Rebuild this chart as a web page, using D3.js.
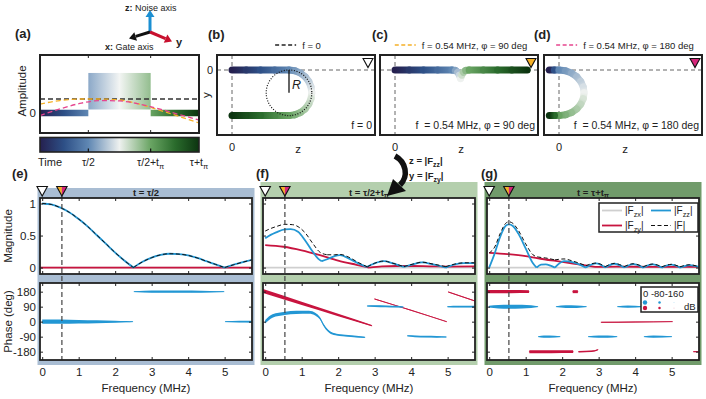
<!DOCTYPE html>
<html><head><meta charset="utf-8">
<script src="https://cdn.jsdelivr.net/npm/d3@7/dist/d3.min.js"></script>
<style>
body{margin:0;background:#fff;}
svg text{font-family:"Liberation Sans",Arial,Helvetica,sans-serif;fill:#222;}
</style></head>
<body>
<svg id="fig" width="706" height="399" xmlns="http://www.w3.org/2000/svg"></svg>
<script>
// ================= DATA =================
const freqTicks=[0,1,2,3,4,5];
const magTicks=[0,0.5,1];
const phaseTicks=[180,90,0,-90,-180];
const dBLegend=[0,-80,-160];
const timeTicks=[0.304,0.696,1];
const timeTickLabels=[[["τ/2"]],[["τ/2+t"],["π","sub"]],[["τ+t"],["π","sub"]]];
const cmapPos=[0,0.15,0.304,0.5,0.696,0.85,1];
const cmapCol=["#25204f","#2d4f86","#5f87b3","#eef1ef","#69a463","#2a6b2c","#0c3410"];

// (a) control amplitude vs normalised time
const aTime=[0,0.125,0.25,0.375,0.5,0.625,0.75,0.875,1];
const aSig0=[1,1,1,1,1,1,1,1,1];
const aSig90=[0.64,0.89,1.0,1.0,0.93,0.64,0.21,-0.25,-0.71];
const aSig180=[-0.18,0.29,0.68,0.89,0.86,0.64,0.29,-0.11,-0.5];
const aPulse=[0.304,0.696,2.86]; // start, end, height

// (b)-(d) trajectories: z, y, normalised time
const bZ=[0,0.25,0.5,0.75,1,1.104,1.2,1.283,1.346,1.386,1.4,1.386,1.346,1.283,1.2,1.104,1,0.75,0.5,0.25,0];
const bY=[0,0,0,0,0,-0.014,-0.054,-0.117,-0.2,-0.296,-0.4,-0.504,-0.6,-0.683,-0.746,-0.786,-0.8,-0.8,-0.8,-0.8,-0.8];
const bT=[0,0.076,0.152,0.228,0.304,0.337,0.369,0.402,0.435,0.467,0.5,0.533,0.565,0.598,0.631,0.663,0.696,0.772,0.848,0.924,1];
const cZ=[0,0.25,0.5,0.75,1.0,1.06,1.1,1.13,1.15,1.17,1.2,1.24,1.3,1.55,1.8,2.05,2.32];
const cY=[0,0,0,0,0,-0.01,-0.04,-0.09,-0.15,-0.09,-0.04,-0.01,0,0,0,0,0];
const cT=[0,0.076,0.152,0.228,0.304,0.353,0.402,0.451,0.5,0.549,0.598,0.647,0.696,0.772,0.848,0.924,1];
const dZ=[-0.17,-0.08,0,0.114,0.22,0.311,0.381,0.425,0.44,0.425,0.381,0.311,0.22,0.114,0,-0.08,-0.17];
const dY=[0,0,0,-0.014,-0.054,-0.117,-0.2,-0.296,-0.4,-0.504,-0.6,-0.683,-0.746,-0.786,-0.8,-0.8,-0.8];
const dT=[0,0.152,0.304,0.337,0.369,0.402,0.435,0.467,0.5,0.533,0.565,0.598,0.631,0.663,0.696,0.848,1];

// (e) t = tau/2
const flatF=[-0.06,5.75], flatV=[0,0];
const eFreq=[0,0.25,0.5,0.75,1,1.25,1.5,1.75,2,2.25,2.5,2.75,3,3.25,3.5,3.75,4,4.25,4.5,4.75,5,5.25,5.5,5.75];
const eFzz=[1,0.985,0.935,0.86,0.757,0.64,0.505,0.37,0.234,0.11,0,0.09,0.155,0.2,0.216,0.21,0.19,0.15,0.1,0.05,0,0.045,0.085,0.12];
const eF  =[1,0.985,0.935,0.86,0.757,0.64,0.505,0.37,0.234,0.11,0,0.09,0.155,0.2,0.216,0.21,0.19,0.15,0.1,0.05,0,0.045,0.085,0.12];
const ePhaseZZ=[
 [[0,0,0],[0.5,0,-12],[1,0,-35],[1.5,0,-62],[2,0,-100],[2.3,0,-130],[2.48,0,-156]],
 [[2.52,180,-152],[2.8,180,-110],[3.2,180,-88],[3.6,180,-85],[4.1,180,-92],[4.6,180,-125],[4.98,180,-156]],
 [[5.02,0,-150],[5.4,0,-110],[5.75,0,-100]]];
const ePhaseZY=[];

// (f) t = tau/2 + t_pi
const fFreqZZ=[0,0.15,0.3,0.54,0.7,0.9,1.1,1.3,1.45,1.55,1.7,1.9,2.05,2.3,2.55,2.78,3.0,3.25,3.5,3.8,4.05,4.3,4.6,4.95,5.2,5.45,5.75];
const fFzz=[0.456,0.51,0.55,0.597,0.60,0.56,0.42,0.25,0.14,0.10,0.13,0.18,0.195,0.14,0.066,0.01,0.066,0.10,0.066,0.01,0.05,0.08,0.05,0.0,0.05,0.07,0.07];
const fFreqF=[0,0.15,0.3,0.54,0.75,0.95,1.1,1.3,1.5,1.7,1.9,2.05,2.3,2.55,2.8,3.0,3.25,3.5,3.8,4.05,4.3,4.6,4.95,5.2,5.45,5.75];
const fF=[0.57,0.61,0.64,0.675,0.67,0.62,0.54,0.38,0.24,0.2,0.2,0.205,0.16,0.08,0.012,0.068,0.102,0.068,0.015,0.055,0.085,0.055,0.015,0.055,0.075,0.075];
const fFreqZY=[0,0.5,1,1.5,2,2.5,2.85,3.2,3.6,4,4.5,5,5.75];
const fFzy=[0.35,0.325,0.27,0.195,0.11,0.044,0,0.02,0.025,0.025,0.02,0.015,0.02];
const fPhaseZZ=[
 [[0,0,-40],[0.2,34,-45],[0.54,50,-48],[0.85,56,-52],[1.2,56,-62],[1.38,44,-72],[1.5,20,-80],[1.6,-20,-85],[1.72,-54,-90],[1.88,-74,-95],[2.2,-84,-105],[2.5,-90,-115],[2.73,-94,-130]],
 [[2.8,94,-140],[3.0,93,-112],[3.3,92,-108],[3.6,90,-115],[3.78,88,-140]],
 [[3.9,-85,-140],[4.1,-88,-115],[4.4,-90,-108],[4.7,-91,-115],[4.96,-92,-140]],
 [[5.0,90,-140],[5.3,90,-115],[5.75,90,-108]]];
const fPhaseZY=[
 [[-0.06,184,-15],[1,110,-45],[2,40,-85],[2.92,-24,-130]],
 [[3.0,136,-140],[4,68,-145],[4.97,0,-150]],
 [[5.02,178,-145],[5.75,124,-140]]];

// (g) t = tau + t_pi
const gFreqZZ=[0,0.15,0.3,0.45,0.54,0.65,0.8,1,1.2,1.3,1.42,1.55,1.68,1.8,2.05,2.3,2.65,2.93,3.18,3.43,3.7,3.95,4.22,4.48,4.73,4.99,5.23,5.49,5.75];
const gFzz=[0,0.22,0.48,0.65,0.675,0.65,0.53,0.3,0.066,0,0.045,0.05,0.03,0,0.1,0.08,0,0.065,0,0.06,0,0.055,0,0.05,0,0.045,0,0.04,0.01];
const gFreqF=[0,0.15,0.3,0.45,0.54,0.65,0.8,1,1.2,1.35,1.55,1.8,2.05,2.3,2.65,2.93,3.18,3.43,3.7,3.95,4.22,4.48,4.73,4.99,5.23,5.49,5.75];
const gF=[0.23,0.32,0.53,0.69,0.715,0.69,0.58,0.37,0.2,0.165,0.15,0.12,0.135,0.1,0.03,0.07,0.015,0.065,0.015,0.06,0.012,0.055,0.012,0.05,0.012,0.045,0.012];
const gFreqZY=[0,0.5,1,1.5,2,2.5,2.9,3.5,4.5,5.75];
const gFzy=[0.23,0.21,0.18,0.13,0.09,0.045,0.01,0.015,0.012,0.01];
const gPhaseZZ=[
 [[0,90,-110],[0.25,90,-40],[0.54,90,-15],[0.9,90,-30],[1.15,90,-70],[1.33,90,-150]],
 [[1.35,-90,-150],[1.5,-90,-85],[1.65,-90,-85],[1.94,-90,-150]],
 [[1.84,90,-150],[2.1,90,-75],[2.4,90,-80],[2.66,90,-150]],
 [[2.72,-90,-150],[3.0,-90,-85],[3.25,-90,-90],[3.5,-90,-150]],
 [[3.52,90,-150],[3.8,90,-90],[4.2,90,-150]],
 [[4.25,-90,-150],[4.5,-90,-88],[5.0,-90,-150]],
 [[5.02,90,-150],[5.4,90,-95],[5.75,90,-110]]];
const gPhaseZY=[
 [[-0.06,180,-55],[0.6,180,-55],[1.09,180,-65]],
 [[2.29,180,-60],[2.43,180,-60]],
 [[1.1,-180,-60],[1.7,-180,-58],[2.3,-180,-65]],
 [[2.45,-180,-120],[2.8,-178,-125],[2.98,-168,-140]],
 [[3.07,-4,-145],[4,-2,-145],[5.02,0,-150]],
 [[5.6,-180,-140],[5.75,-180,-140]]];

// ================= DRAWING =================
const svg=d3.select("#fig");
const defs=svg.append("defs");
const cmap=d3.scaleLinear().domain(cmapPos).range(cmapCol);
const BLUE="#2397d4", RED="#c8143f", GRAY="#cfcfcf", ORANGE="#f5b027", PINK="#e6458f";
const thick=d3.scaleLinear().domain([-160,0]).range([0.6,4.4]).clamp(true);

function richText(sel,parts,fs){
  let sub=false;
  parts.forEach(p=>{
    const ts=sel.append("tspan").text(p[0]);
    const isSub=p[1]==="sub";
    if(isSub){ts.attr("font-size",fs*0.72); if(!sub) ts.attr("dy",fs*0.28);}
    else if(sub) ts.attr("dy",-fs*0.28);
    sub=isSub;
  });
}
function panelLabel(x,y,l){
  svg.append("text").attr("x",x).attr("y",y).attr("font-size",13).attr("font-weight","bold").text("("+l+")");
}
function arrow(x1,y1,x2,y2,color,w,hl,hw){
  const dx=x2-x1,dy=y2-y1,len=Math.hypot(dx,dy),ux=dx/len,uy=dy/len;
  const bx=x2-ux*hl,by=y2-uy*hl;
  svg.append("line").attr("x1",x1).attr("y1",y1).attr("x2",bx).attr("y2",by).attr("stroke",color).attr("stroke-width",w);
  svg.append("path").attr("d",`M${x2},${y2}L${bx-uy*hw},${by+ux*hw}L${bx+uy*hw},${by-ux*hw}Z`).attr("fill",color);
}
function triangle(g,cx,top,h,fillL,fillR){
  const hw=h*0.55;
  if(fillR){
    g.append("path").attr("d",`M${cx-hw},${top}L${cx},${top}L${cx},${top+h}Z`).attr("fill",fillL);
    g.append("path").attr("d",`M${cx},${top}L${cx+hw},${top}L${cx},${top+h}Z`).attr("fill",fillR);
    g.append("path").attr("d",`M${cx-hw},${top}L${cx+hw},${top}L${cx},${top+h}Z`).attr("fill","none").attr("stroke","#111").attr("stroke-width",1.1);
  } else {
    g.append("path").attr("d",`M${cx-hw},${top}L${cx+hw},${top}L${cx},${top+h}Z`).attr("fill",fillL).attr("stroke","#111").attr("stroke-width",1.1);
  }
}

// ---- coordinate icon ----
arrow(150,32,150,10,"#1b8fd2",3,7,4.5);
arrow(150,32,129,38.5,"#111",3,7,4.5);
arrow(150,32,172,41.5,"#c8102e",3,7,4.5);
{const t=svg.append("text").attr("x",125).attr("y",10.5).attr("font-size",9);
 t.append("tspan").attr("font-weight","bold").text("z:"); t.append("tspan").text(" Noise axis");}
{const t=svg.append("text").attr("x",105).attr("y",50).attr("font-size",9);
 t.append("tspan").attr("font-weight","bold").text("x:"); t.append("tspan").text(" Gate axis");}
svg.append("text").attr("x",176).attr("y",46).attr("font-size",11).attr("font-weight","bold").text("y");

// ---- panel (a) ----
const aL=40,aR=199,aT=55,aB=133;
const aX=d3.scaleLinear().domain([0,1]).range([aL,aR]);
const aY=d3.scaleLinear().domain([0,1]).range([113,99]);
defs.append("linearGradient").attr("id","tgrad").attr("gradientUnits","userSpaceOnUse")
  .attr("x1",aX(0)).attr("x2",aX(1)).attr("y1",0).attr("y2",0)
  .selectAll("stop").data(cmapPos).join("stop").attr("offset",d=>d).attr("stop-color",(d,i)=>cmapCol[i]);
svg.append("rect").attr("x",aL).attr("y",aT).attr("width",aR-aL).attr("height",aB-aT).attr("fill","#fff");
svg.append("rect").attr("x",aX(aPulse[0])).attr("y",aY(aPulse[2])).attr("width",aX(aPulse[1])-aX(aPulse[0]))
  .attr("height",aY(0)-3.5-aY(aPulse[2])).attr("fill","url(#tgrad)").attr("opacity",0.72);
[[0,aPulse[0]],[aPulse[1],1]].forEach(s=>{
  svg.append("line").attr("x1",aX(s[0])).attr("x2",aX(s[1])).attr("y1",aY(0)).attr("y2",aY(0))
    .attr("stroke","url(#tgrad)").attr("stroke-width",6.5);
});
const aLine=d3.line().x((d,i)=>aX(aTime[i])).y(d=>aY(d)).curve(d3.curveMonotoneX);
svg.append("path").attr("d",aLine(aSig0)).attr("fill","none").attr("stroke","#333").attr("stroke-width",1.3).attr("stroke-dasharray","5,3");
svg.append("path").attr("d",aLine(aSig90)).attr("fill","none").attr("stroke",ORANGE).attr("stroke-width",1.3).attr("stroke-dasharray","5,3");
svg.append("path").attr("d",aLine(aSig180)).attr("fill","none").attr("stroke",PINK).attr("stroke-width",1.3).attr("stroke-dasharray","5,3");
timeTicks.slice(0,2).forEach(t=>{
  svg.append("line").attr("x1",aX(t)).attr("x2",aX(t)).attr("y1",aT).attr("y2",aT+3).attr("stroke","#222");
  svg.append("line").attr("x1",aX(t)).attr("x2",aX(t)).attr("y1",aB).attr("y2",aB-3).attr("stroke","#222");
});
svg.append("rect").attr("x",aL).attr("y",aT).attr("width",aR-aL).attr("height",aB-aT).attr("fill","none").attr("stroke","#222").attr("stroke-width",2);
svg.append("text").attr("x",36).attr("y",aY(0)+4).attr("text-anchor","end").attr("font-size",11.5).text("0");
svg.append("text").attr("transform",`translate(26,${(aT+aB)/2-3}) rotate(-90)`).attr("text-anchor","middle").attr("font-size",11.5).text("Amplitude");
// colorbar
svg.append("rect").attr("x",aL).attr("y",137.5).attr("width",aR-aL).attr("height",14.5).attr("fill","url(#tgrad)").attr("stroke","#222").attr("stroke-width",1.6);
timeTicks.slice(0,2).forEach(t=>svg.append("line").attr("x1",aX(t)).attr("x2",aX(t)).attr("y1",148.5).attr("y2",152).attr("stroke","#111").attr("stroke-width",1.2));
svg.append("text").attr("x",38).attr("y",166).attr("font-size",11).text("Time");
timeTicks.forEach((t,i)=>{
  const tx=svg.append("text").attr("x",aX(t)).attr("y",166).attr("text-anchor","middle").attr("font-size",10.5);
  richText(tx,timeTickLabels[i],10.5);
});

// ---- panels (b)-(d) ----
function trajPanel(o){
  const L=o.L,T=55,W=158,H=80;
  const z=d3.scaleLinear().domain([0,1]).range([L+15,L+72]);
  const y=d3.scaleLinear().domain([0,-1]).range([70,127]);
  svg.append("rect").attr("x",L).attr("y",T).attr("width",W).attr("height",H).attr("fill","#fff");
  svg.append("line").attr("x1",L).attr("x2",L+W).attr("y1",y(0)).attr("y2",y(0)).attr("stroke","#555").attr("stroke-width",0.9).attr("stroke-dasharray","4,3");
  svg.append("line").attr("x1",z(0)).attr("x2",z(0)).attr("y1",T).attr("y2",T+H).attr("stroke","#555").attr("stroke-width",0.9).attr("stroke-dasharray","4,3");
  const pts=o.z.map((v,i)=>[z(v),y(o.y[i]),o.t[i]]);
  for(let i=0;i<pts.length-1;i++){
    const a=pts[i],b=pts[i+1],id=`tr_${o.id}_${i}`;
    const gr=defs.append("linearGradient").attr("id",id).attr("gradientUnits","userSpaceOnUse")
      .attr("x1",a[0]).attr("y1",a[1]).attr("x2",b[0]).attr("y2",b[1]);
    gr.append("stop").attr("offset",0).attr("stop-color",cmap(a[2]));
    gr.append("stop").attr("offset",1).attr("stop-color",cmap(b[2]));
    svg.append("line").attr("x1",a[0]).attr("y1",a[1]).attr("x2",b[0]).attr("y2",b[1])
      .attr("stroke",`url(#${id})`).attr("stroke-width",7).attr("stroke-linecap","round");
  }
  if(o.circle){
    svg.append("circle").attr("cx",z(o.circle[0])).attr("cy",y(o.circle[1])).attr("r",Math.abs(y(o.circle[2])-y(0)))
      .attr("fill","none").attr("stroke","#111").attr("stroke-width",1.2).attr("stroke-dasharray","1,1.6");
    svg.append("line").attr("x1",z(o.circle[0])).attr("x2",z(o.circle[0])).attr("y1",y(o.circle[1])).attr("y2",y(0))
      .attr("stroke","#111").attr("stroke-width",1.3);
    svg.append("text").attr("x",z(o.circle[0])+3).attr("y",88.5).attr("font-size",12.5).attr("font-style","italic").text("R");
  }
  triangle(svg,L+W-7,58.5,9,o.tri,null);
  svg.append("rect").attr("x",L).attr("y",T).attr("width",W).attr("height",H).attr("fill","none").attr("stroke","#222").attr("stroke-width",2);
  svg.append("text").attr("x",L+W-3).attr("y",129).attr("text-anchor","end").attr("font-size",10.5).text(o.inner);
  svg.append("text").attr("x",z(0)).attr("y",151).attr("text-anchor","middle").attr("font-size",11).text("0");
  svg.append("text").attr("x",L+81).attr("y",153).attr("text-anchor","middle").attr("font-size",11.5).text("z");
  if(o.ylab){
    svg.append("text").attr("x",L-4).attr("y",y(0)+4).attr("text-anchor","end").attr("font-size",11).text("0");
    svg.append("text").attr("transform",`translate(${L-7},95) rotate(-90)`).attr("text-anchor","middle").attr("font-size",11.5).text("y");
  }
  const lg=svg.append("g");
  lg.append("line").attr("x1",0).attr("x2",21).attr("y1",0).attr("y2",0).attr("stroke",o.lc).attr("stroke-width",1.5).attr("stroke-dasharray","4,2.5");
  const lt=lg.append("text").attr("x",27).attr("y",3.5).attr("font-size",9.5).attr("fill","#333").text(o.leg);
  const w=27+lt.node().getComputedTextLength();
  lg.attr("transform",`translate(${L+W/2-w/2+2},45)`);
}
trajPanel({id:"b",L:217,z:bZ,y:bY,t:bT,tri:"#fff",inner:"f = 0",leg:"f = 0",lc:"#222",ylab:true,circle:[1,-0.4,-0.4]});
trajPanel({id:"c",L:380,z:cZ,y:cY,t:cT,tri:ORANGE,inner:"f\u00a0 = 0.54 MHz, φ = 90 deg",leg:"f = 0.54 MHz, φ = 90 deg",lc:ORANGE});
trajPanel({id:"d",L:544,z:dZ,y:dY,t:dT,tri:"#d6267a",inner:"f\u00a0 = 0.54 MHz, φ = 180 deg",leg:"f = 0.54 MHz, φ = 180 deg",lc:PINK});

// ---- panels (e)-(g) ----
function splitMins(pts){
  const pieces=[];let cur=[pts[0]];
  for(let i=1;i<pts.length;i++){
    cur.push(pts[i]);
    if(i<pts.length-1 && pts[i][1]<pts[i-1][1] && pts[i][1]<=pts[i+1][1]){pieces.push(cur);cur=[pts[i]];}
  }
  pieces.push(cur);return pieces;
}
function drawMag(g,x,y,fs,vs,color,w,dash){
  const pts=fs.map((f,i)=>[f,vs[i]]);
  const line=d3.line().x(d=>x(d[0])).y(d=>y(d[1])).curve(d3.curveMonotoneX);
  const d=splitMins(pts).map(p=>line(p)).join("");
  g.append("path").attr("d",d).attr("fill","none").attr("stroke",color).attr("stroke-width",w)
    .attr("stroke-dasharray",dash).attr("stroke-linejoin","round");
}
function ribbon(g,x,y,run,color){
  const area=d3.area().x(d=>x(d[0])).y0(d=>y(d[1])-thick(d[2])/2).y1(d=>y(d[1])+thick(d[2])/2).curve(d3.curveMonotoneX);
  g.append("path").attr("d",area(run)).attr("fill",color);
  const line=d3.line().x(d=>x(d[0])).y(d=>y(d[1])).curve(d3.curveMonotoneX);
  g.append("path").attr("d",line(run)).attr("fill","none").attr("stroke",color).attr("stroke-width",0.8).attr("stroke-linecap","round");
}
function styleAxis(s,fs){
  s.select(".domain").remove();
  s.selectAll("line").attr("stroke","#222");
  s.selectAll("text").attr("font-size",fs).attr("font-family",'"Liberation Sans",Arial,sans-serif').attr("fill","#333");
}
function bottomPanel(o){
  const L=o.L,R=L+212,MT=198,MB=274,PT=283,PB=360;
  const x=d3.scaleLinear().domain([-0.06,5.75]).range([L,R]);
  const yM=d3.scaleLinear().domain([-0.1,1.086]).range([MB,MT]);
  const yP=d3.scaleLinear().domain([-230,232]).range([PB,PT]);
  svg.append("rect").attr("x",L-2.5).attr("y",o.bgTop).attr("width",R-L+5).attr("height",365-o.bgTop).attr("fill",o.bg);
  const tt=svg.append("text").attr("x",(L+R)/2).attr("y",195.5).attr("text-anchor","middle").attr("font-size",9.5).attr("font-weight","bold");
  richText(tt,o.title,9.5);
  svg.append("rect").attr("x",L).attr("y",MT).attr("width",R-L).attr("height",MB-MT).attr("fill","#fff");
  svg.append("rect").attr("x",L).attr("y",PT).attr("width",R-L).attr("height",PB-PT).attr("fill","#fff");
  defs.append("clipPath").attr("id","cm"+o.id).append("rect").attr("x",L).attr("y",MT).attr("width",R-L).attr("height",MB-MT);
  defs.append("clipPath").attr("id","cp"+o.id).append("rect").attr("x",L).attr("y",PT).attr("width",R-L).attr("height",PB-PT);
  const gm=svg.append("g").attr("clip-path",`url(#cm${o.id})`);
  const gp=svg.append("g").attr("clip-path",`url(#cp${o.id})`);
  drawMag(gm,x,yM,flatF,flatV,GRAY,1.8,null);
  drawMag(gm,x,yM,o.zyF,o.zy,RED,1.8,null);
  drawMag(gm,x,yM,o.zzF,o.zz,BLUE,1.8,null);
  drawMag(gm,x,yM,o.fF,o.f,"#111",1,"4,2.5");
  o.phZY.forEach(r=>ribbon(gp,x,yP,r,RED));
  o.phZZ.forEach(r=>ribbon(gp,x,yP,r,BLUE));
  svg.append("line").attr("x1",x(0.54)).attr("x2",x(0.54)).attr("y1",196).attr("y2",PB).attr("stroke","#444").attr("stroke-width",1.2).attr("stroke-dasharray","5,3");
  const noLab=()=>"";
  svg.append("g").attr("transform",`translate(0,${MT})`).call(d3.axisTop(x).tickValues(freqTicks).tickSizeInner(-3).tickSizeOuter(0).tickFormat(noLab)).call(s=>styleAxis(s,11));
  svg.append("g").attr("transform",`translate(0,${MB})`).call(d3.axisBottom(x).tickValues(freqTicks).tickSizeInner(-3).tickSizeOuter(0).tickFormat(noLab)).call(s=>styleAxis(s,11));
  svg.append("g").attr("transform",`translate(0,${PT})`).call(d3.axisTop(x).tickValues(freqTicks).tickSizeInner(-3).tickSizeOuter(0).tickFormat(noLab)).call(s=>styleAxis(s,11));
  svg.append("g").attr("transform",`translate(0,${PB})`).call(d3.axisBottom(x).tickValues(freqTicks).tickSizeInner(-3).tickSizeOuter(0).tickPadding(8).tickFormat(d=>String(d))).call(s=>styleAxis(s,11.5));
  svg.append("g").attr("transform",`translate(${L},0)`).call(d3.axisLeft(yM).tickValues(magTicks).tickSizeInner(-3).tickSizeOuter(0).tickPadding(4).tickFormat(o.ylab?(d=>String(d)):noLab)).call(s=>styleAxis(s,11.5));
  svg.append("g").attr("transform",`translate(${R},0)`).call(d3.axisRight(yM).tickValues(magTicks).tickSizeInner(-3).tickSizeOuter(0).tickFormat(noLab)).call(s=>styleAxis(s,11));
  svg.append("g").attr("transform",`translate(${L},0)`).call(d3.axisLeft(yP).tickValues(phaseTicks).tickSizeInner(-3).tickSizeOuter(0).tickPadding(4).tickFormat(o.ylab?(d=>String(d)):noLab)).call(s=>styleAxis(s,11.5));
  svg.append("g").attr("transform",`translate(${R},0)`).call(d3.axisRight(yP).tickValues(phaseTicks).tickSizeInner(-3).tickSizeOuter(0).tickFormat(noLab)).call(s=>styleAxis(s,11));
  svg.append("rect").attr("x",L).attr("y",MT).attr("width",R-L).attr("height",MB-MT).attr("fill","none").attr("stroke","#222").attr("stroke-width",1.8);
  svg.append("rect").attr("x",L).attr("y",PT).attr("width",R-L).attr("height",PB-PT).attr("fill","none").attr("stroke","#222").attr("stroke-width",1.8);
  triangle(svg,x(0),186.5,9.5,"#fff",null);
  triangle(svg,x(0.54),186.5,9.5,ORANGE,"#d6267a");
  svg.append("text").attr("x",(L+R)/2).attr("y",392).attr("text-anchor","middle").attr("font-size",11.5).attr("fill","#333").text("Frequency (MHz)");
  if(o.ylab){
    svg.append("text").attr("transform",`translate(12,${(MT+MB)/2}) rotate(-90)`).attr("text-anchor","middle").attr("font-size",11.5).attr("fill","#333").text("Magnitude");
    svg.append("text").attr("transform",`translate(12,${(PT+PB)/2}) rotate(-90)`).attr("text-anchor","middle").attr("font-size",11.5).attr("fill","#333").text("Phase (deg)");
  }
}
bottomPanel({id:"e",L:40,bgTop:188,bg:"#a9bdd3",title:[["t = τ/2"]],ylab:true,
  zzF:eFreq,zz:eFzz,fF:eFreq,f:eF,zyF:flatF,zy:flatV,phZZ:ePhaseZZ,phZY:ePhaseZY});
bottomPanel({id:"f",L:263,bgTop:182,bg:"#b4cfad",title:[["t = τ/2+t"],["π","sub"]],ylab:false,
  zzF:fFreqZZ,zz:fFzz,fF:fFreqF,f:fF,zyF:fFreqZY,zy:fFzy,phZZ:fPhaseZZ,phZY:fPhaseZY});
bottomPanel({id:"g",L:487,bgTop:182,bg:"#719b6b",title:[["t = τ+t"],["π","sub"]],ylab:false,
  zzF:gFreqZZ,zz:gFzz,fF:gFreqF,f:gF,zyF:gFreqZY,zy:gFzy,phZZ:gPhaseZZ,phZY:gPhaseZY});

// curved arrow + labels (drawn on top of the (f) band)
svg.append("path").attr("d","M395,156 C406,162 409,176 400,185").attr("fill","none").attr("stroke","#111").attr("stroke-width",5.5);
svg.append("path").attr("d","M393,179 L406,191 L387,196 Z").attr("fill","#111");
{const t=svg.append("text").attr("x",409).attr("y",164).attr("font-size",9.5).attr("font-weight","bold");
 richText(t,[["z = |F"],["zz","sub"],["|"]],9.5);}
{const t=svg.append("text").attr("x",409).attr("y",179).attr("font-size",9.5).attr("font-weight","bold");
 richText(t,[["y = |F"],["zy","sub"],["|"]],9.5);}

// legend (g) magnitude
{
  const lg=svg.append("g").attr("transform","translate(599,203)");
  lg.append("rect").attr("width",99).attr("height",29).attr("fill","#fff").attr("stroke","#222").attr("stroke-width",1.5);
  const items=[[GRAY,null,"zx",3,7.5],[BLUE,null,"zz",52,7.5],[RED,null,"zy",3,22.5],["#111","4,2.5",null,52,22.5]];
  items.forEach(it=>{
    lg.append("line").attr("x1",it[3]).attr("x2",it[3]+20).attr("y1",it[4]).attr("y2",it[4]).attr("stroke",it[0]).attr("stroke-width",it[1]?1:1.8).attr("stroke-dasharray",it[1]);
    const t=lg.append("text").attr("x",it[3]+23).attr("y",it[4]+3.5).attr("font-size",10);
    if(it[2]) richText(t,[["|F"],[it[2],"sub"],["|"]],10); else t.text("|F|");
  });
}
// legend (g) phase dot sizes
{
  const lg=svg.append("g").attr("transform","translate(641,287)");
  lg.append("rect").attr("width",57).attr("height",25).attr("fill","#fff").attr("stroke","#222").attr("stroke-width",1.5);
  lg.append("text").attr("x",2).attr("y",10).attr("font-size",9.5).text("0 -80-160");
  dBLegend.forEach((d,i)=>{
    lg.append("circle").attr("cx",4+i*14.5).attr("cy",15.5).attr("r",thick(d)/2).attr("fill",BLUE);
    lg.append("circle").attr("cx",4+i*14.5).attr("cy",21).attr("r",thick(d)/2).attr("fill",RED);
  });
  lg.append("text").attr("x",43).attr("y",22.5).attr("font-size",9.5).text("dB");
}

panelLabel(15,38,"a");panelLabel(208,39,"b");panelLabel(372,39,"c");panelLabel(534,39,"d");
panelLabel(12,178,"e");panelLabel(256,178,"f");panelLabel(481,178,"g");
</script>
</body></html>
